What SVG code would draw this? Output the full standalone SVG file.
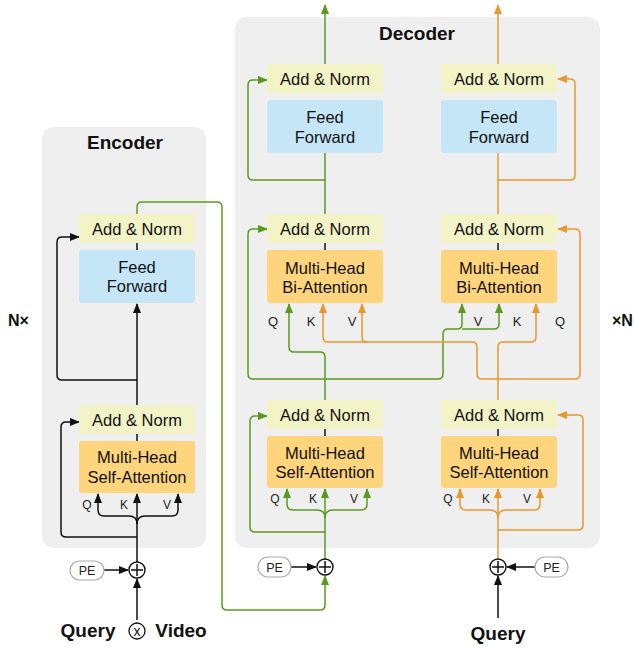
<svg xmlns="http://www.w3.org/2000/svg" width="634" height="650" viewBox="0 0 634 650">
<style>
.panel{fill:#efefef}
.an{fill:#f3f3c8}
.ff{fill:#c5e6f6}
.mh{fill:#fed47c}
.t{font-family:"Liberation Sans",Arial,sans-serif;font-size:16.5px;fill:#111;text-anchor:middle}
.q{font-family:"Liberation Sans",Arial,sans-serif;font-size:12px;fill:#222;text-anchor:middle}
.qb{font-family:"Liberation Sans",Arial,sans-serif;font-size:13px;fill:#222;text-anchor:middle}
.h{font-family:"Liberation Sans",Arial,sans-serif;font-size:19px;font-weight:bold;fill:#111;text-anchor:middle}
.n{font-family:"Liberation Sans",Arial,sans-serif;font-size:16px;font-weight:bold;fill:#111}
.k{fill:none;stroke:#111;stroke-width:1.5}
.g{fill:none;stroke:#5c9a1f;stroke-width:1.5}
.o{fill:none;stroke:#e9982e;stroke-width:1.5}
.pe{fill:#fff;stroke:#aaa;stroke-width:1.2}
.pet{font-family:"Liberation Sans",Arial,sans-serif;font-size:12.5px;fill:#222;text-anchor:middle}
.circ{fill:#fff;stroke:#111;stroke-width:1.4}
</style>
<defs>
<marker id="ak" markerUnits="userSpaceOnUse" markerWidth="10" markerHeight="8" refX="9" refY="4" orient="auto"><path d="M0,0 L10,4 L0,8 Z" fill="#111"/></marker>
<marker id="ag" markerUnits="userSpaceOnUse" markerWidth="10" markerHeight="8" refX="9" refY="4" orient="auto"><path d="M0,0 L10,4 L0,8 Z" fill="#5c9a1f"/></marker>
<marker id="ao" markerUnits="userSpaceOnUse" markerWidth="10" markerHeight="8" refX="9" refY="4" orient="auto"><path d="M0,0 L10,4 L0,8 Z" fill="#e9982e"/></marker>
</defs>

<g id="encoder-panel">
<rect class="panel" x="42" y="127" width="164" height="421" rx="12"/>
<text class="h" x="125" y="149">Encoder</text>
</g>
<g id="decoder-panel">
<rect class="panel" x="235" y="17" width="365" height="531" rx="12"/>
<text class="h" x="417" y="40">Decoder</text>
</g>

<g id="connectors">
<!-- encoder -->
<path class="k" d="M137,562 V494" marker-end="url(#ak)"/>
<path class="k" d="M137,524 Q137,516 129,516 H104 Q98,516 98,510 V494" marker-end="url(#ak)"/>
<path class="k" d="M137,524 Q137,516 145,516 H172 Q178,516 178,510 V494" marker-end="url(#ak)"/>
<path class="k" d="M137,537 H66 Q61,537 61,532 V427 Q61,422 66,422 H79" marker-end="url(#ak)"/>
<path class="k" d="M137,441 V434"/>
<path class="k" d="M137,405 V304" marker-end="url(#ak)"/>
<path class="k" d="M137,380 H62 Q57,380 57,375 V242 Q57,237 62,237 H79" marker-end="url(#ak)"/>
<path class="k" d="M137,250 V243"/>
<path class="g" d="M137,214 V207 Q137,202 142,202 H217 Q222,202 222,207 V605 Q222,610 227,610 H320 Q325,610 325,605 V576" marker-end="url(#ag)"/>
<path class="k" d="M104,570 H128" marker-end="url(#ak)"/>
<path class="k" d="M137,620 V579" marker-end="url(#ak)"/>
<!-- decoder left (green) -->
<path class="k" d="M291,567 H316" marker-end="url(#ak)"/>
<path class="g" d="M325,559 V489" marker-end="url(#ag)"/>
<path class="g" d="M325,518 Q325,510 317,510 H293 Q287,510 287,504 V489" marker-end="url(#ag)"/>
<path class="g" d="M325,518 Q325,510 333,510 H361 Q367,510 367,504 V489" marker-end="url(#ag)"/>
<path class="g" d="M325,532 H255 Q250,532 250,527 V421 Q250,416 255,416 H267" marker-end="url(#ag)"/>
<path class="k" d="M325,436 V429"/>
<path class="g" d="M325,400 V357 Q325,352 320,352 H294 Q289,352 289,347 V304" marker-end="url(#ag)"/>
<path class="g" d="M325,379 H253 Q248,379 248,374 V234 Q248,229 253,229 H267" marker-end="url(#ag)"/>
<path class="g" d="M325,379 H438 Q443,379 443,374 V334 Q443,329 448,329 H457 Q462,329 462,324 V304" marker-end="url(#ag)"/>
<path class="g" d="M462,329 H494 Q499,329 499,324 V304" marker-end="url(#ag)"/>
<path class="k" d="M325,250 V243"/>
<path class="g" d="M325,214 V153"/>
<path class="g" d="M325,180 H253 Q248,180 248,175 V85 Q248,80 253,80 H267" marker-end="url(#ag)"/>
<path class="g" d="M325,64 V5" marker-end="url(#ag)"/>
<!-- decoder right (orange) -->
<path class="k" d="M535,567 H507" marker-end="url(#ak)"/>
<path class="k" d="M498,618 V576" marker-end="url(#ak)"/>
<path class="o" d="M498,559 V489" marker-end="url(#ao)"/>
<path class="o" d="M498,518 Q498,510 490,510 H466 Q460,510 460,504 V489" marker-end="url(#ao)"/>
<path class="o" d="M498,518 Q498,510 506,510 H534 Q540,510 540,504 V489" marker-end="url(#ao)"/>
<path class="o" d="M498,530 H578 Q583,530 583,525 V420 Q583,415 578,415 H558" marker-end="url(#ao)"/>
<path class="k" d="M498,436 V429"/>
<path class="o" d="M498,400 V347 Q498,342 503,342 H531 Q536,342 536,337 V304" marker-end="url(#ao)"/>
<path class="o" d="M498,379 H575 Q580,379 580,374 V234 Q580,229 575,229 H558" marker-end="url(#ao)"/>
<path class="o" d="M498,379 H482 Q477,379 477,374 V347 Q477,342 472,342 H328 Q323,342 323,337 V304" marker-end="url(#ao)"/>
<path class="o" d="M367,342 Q362,342 362,337 V304" marker-end="url(#ao)"/>
<path class="k" d="M498,250 V243"/>
<path class="o" d="M498,214 V153"/>
<path class="o" d="M498,180 H570 Q575,180 575,175 V84 Q575,79 570,79 H558" marker-end="url(#ao)"/>
<path class="o" d="M498,64 V5" marker-end="url(#ao)"/>
</g>

<g id="enc-ff-addnorm"><rect class="an" x="79" y="214" width="116" height="29" rx="3"/><text class="t" x="137" y="234.5">Add &amp; Norm</text></g>
<g id="enc-ff"><rect class="ff" x="79" y="250" width="116" height="53" rx="3"/><text class="t" x="137" y="273">Feed</text><text class="t" x="137" y="292">Forward</text></g>
<g id="enc-sa-addnorm"><rect class="an" x="79" y="405" width="116" height="29" rx="3"/><text class="t" x="137" y="425.5">Add &amp; Norm</text></g>
<g id="enc-sa"><rect class="mh" x="79" y="441" width="116" height="52" rx="3"/><text class="t" x="137" y="463">Multi-Head</text><text class="t" x="137" y="483">Self-Attention</text></g>
<g id="enc-qkv"><text class="q" x="87" y="509">Q</text><text class="q" x="124" y="509">K</text><text class="q" x="167" y="509">V</text></g>

<g id="dec-l-ff-addnorm"><rect class="an" x="267" y="64" width="116" height="29" rx="3"/><text class="t" x="325" y="84.5">Add &amp; Norm</text></g>
<g id="dec-l-ff"><rect class="ff" x="267" y="100" width="116" height="53" rx="3"/><text class="t" x="325" y="123">Feed</text><text class="t" x="325" y="143">Forward</text></g>
<g id="dec-l-bi-addnorm"><rect class="an" x="267" y="214" width="116" height="29" rx="3"/><text class="t" x="325" y="234.5">Add &amp; Norm</text></g>
<g id="dec-l-bi"><rect class="mh" x="267" y="250" width="116" height="53" rx="3"/><text class="t" x="325" y="274">Multi-Head</text><text class="t" x="325" y="293">Bi-Attention</text></g>
<g id="dec-l-bi-qkv"><text class="qb" x="273" y="326">Q</text><text class="qb" x="311" y="326">K</text><text class="qb" x="352" y="326">V</text></g>
<g id="dec-l-sa-addnorm"><rect class="an" x="267" y="400" width="116" height="29" rx="3"/><text class="t" x="325" y="420.5">Add &amp; Norm</text></g>
<g id="dec-l-sa"><rect class="mh" x="267" y="436" width="116" height="52" rx="3"/><text class="t" x="325" y="459">Multi-Head</text><text class="t" x="325" y="478">Self-Attention</text></g>
<g id="dec-l-sa-qkv"><text class="q" x="275" y="503">Q</text><text class="q" x="313" y="503">K</text><text class="q" x="354" y="503">V</text></g>

<g id="dec-r-ff-addnorm"><rect class="an" x="441" y="64" width="116" height="29" rx="3"/><text class="t" x="499" y="84.5">Add &amp; Norm</text></g>
<g id="dec-r-ff"><rect class="ff" x="441" y="100" width="116" height="53" rx="3"/><text class="t" x="499" y="123">Feed</text><text class="t" x="499" y="143">Forward</text></g>
<g id="dec-r-bi-addnorm"><rect class="an" x="441" y="214" width="116" height="29" rx="3"/><text class="t" x="499" y="234.5">Add &amp; Norm</text></g>
<g id="dec-r-bi"><rect class="mh" x="441" y="250" width="116" height="53" rx="3"/><text class="t" x="499" y="274">Multi-Head</text><text class="t" x="499" y="293">Bi-Attention</text></g>
<g id="dec-r-bi-qkv"><text class="qb" x="478" y="326">V</text><text class="qb" x="517" y="326">K</text><text class="qb" x="560" y="326">Q</text></g>
<g id="dec-r-sa-addnorm"><rect class="an" x="441" y="400" width="116" height="29" rx="3"/><text class="t" x="499" y="420.5">Add &amp; Norm</text></g>
<g id="dec-r-sa"><rect class="mh" x="441" y="436" width="116" height="52" rx="3"/><text class="t" x="499" y="459">Multi-Head</text><text class="t" x="499" y="478">Self-Attention</text></g>
<g id="dec-r-sa-qkv"><text class="q" x="448" y="503">Q</text><text class="q" x="486" y="503">K</text><text class="q" x="527" y="503">V</text></g>

<g id="enc-pe"><rect class="pe" x="70" y="561" width="34" height="19" rx="9.5"/><text class="pet" x="87" y="575">PE</text></g>
<g id="enc-add"><circle class="circ" cx="137" cy="570" r="8"/><path class="k" d="M131,570 H143 M137,564 V576"/></g>
<g id="dec-l-pe"><rect class="pe" x="258" y="557" width="33" height="20" rx="10"/><text class="pet" x="274.5" y="571.5">PE</text></g>
<g id="dec-l-add"><circle class="circ" cx="325" cy="567" r="8"/><path class="k" d="M319,567 H331 M325,561 V573"/></g>
<g id="dec-r-pe"><rect class="pe" x="535" y="557" width="33" height="20" rx="10"/><text class="pet" x="551.5" y="571.5">PE</text></g>
<g id="dec-r-add"><circle class="circ" cx="498" cy="567" r="8"/><path class="k" d="M492,567 H504 M498,561 V573"/></g>

<g id="enc-input">
<text class="h" x="88" y="637">Query</text>
<circle cx="137" cy="631" r="8" fill="#fff" stroke="#111" stroke-width="1.3"/>
<text x="137" y="636" font-family="Liberation Sans, Arial, sans-serif" font-size="14" fill="#111" text-anchor="middle">x</text>
<text class="h" x="181" y="637">Video</text>
</g>
<g id="dec-input"><text class="h" x="498" y="640">Query</text></g>
<g id="repeat-labels">
<text class="n" x="8" y="326">N×</text>
<text class="n" x="612" y="326">×N</text>
</g>
</svg>
